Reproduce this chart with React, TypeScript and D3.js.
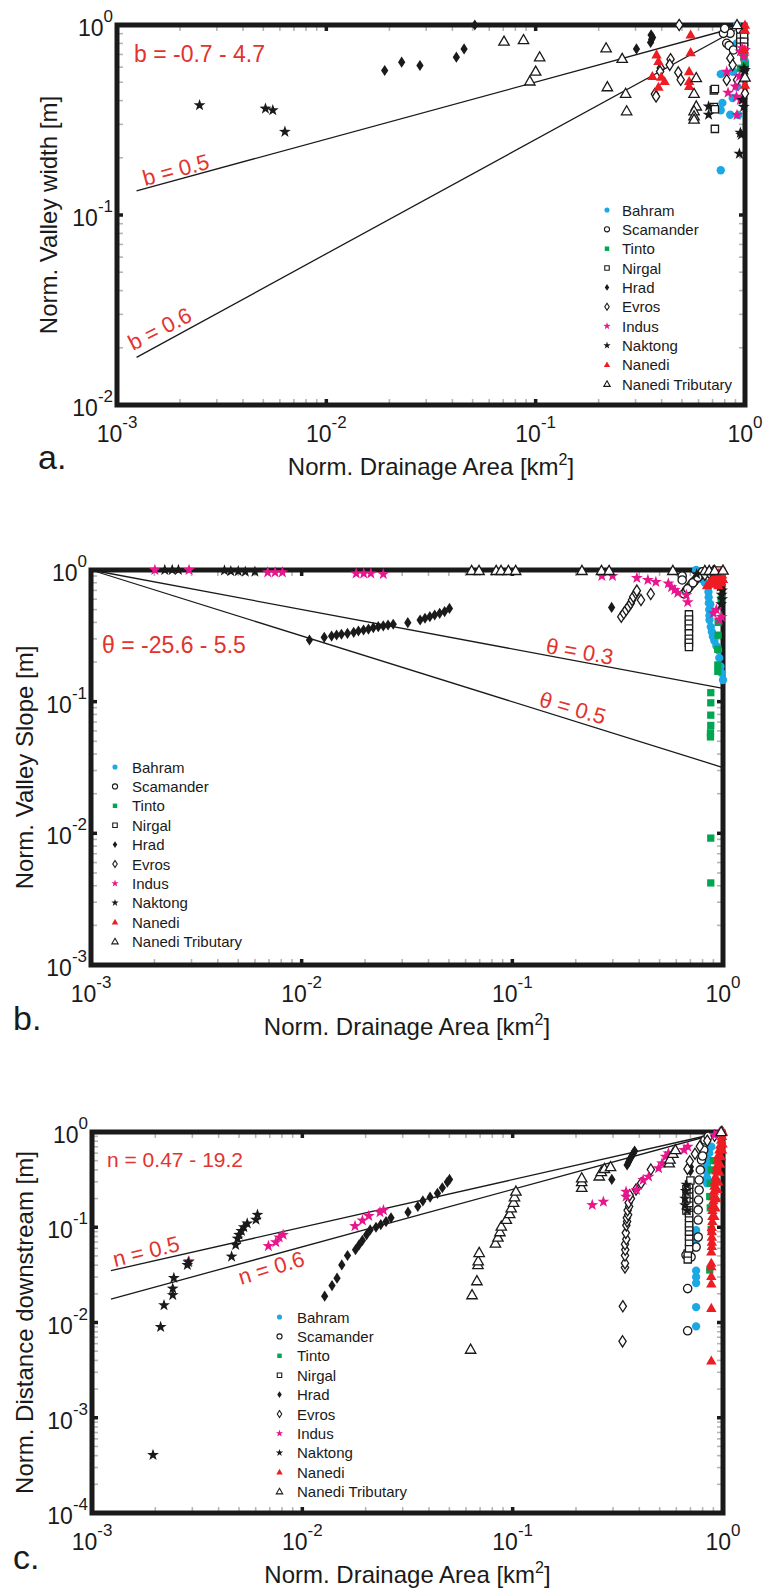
import React from 'react';
import * as d3 from 'd3';

type Pt = [number, number];

// ---------------- Panel a: Norm. Valley width ----------------
const widthBahram: Pt[] = [[0.766,0.551],[0.78,0.389],[0.766,0.356],[0.85,0.337],[0.766,0.172],[0.873,0.413],[0.873,0.569],[1.0,0.643],[0.916,1.0],[0.916,0.801],[0.88,0.568],[0.916,0.473],[1.0,0.616],[0.93,0.336]];
const widthScamander: Pt[] = [[0.818,0.94],[0.849,0.904],[0.789,0.904],[0.818,0.801],[0.84,0.78],[0.881,0.739],[0.95,0.94],[0.986,0.904],[0.80,0.96]];
const widthTinto: Pt[] = [[0.986,0.681],[1.0,0.616],[1.0,0.592],[0.95,0.592]];
const widthNirgal: Pt[] = [[0.718,0.284],[0.71,0.453],[0.718,0.46],[0.71,0.37],[0.718,0.36],[0.95,0.868],[0.99,0.868],[0.95,0.817],[0.99,0.817],[0.95,0.769],[0.99,0.769]];
const widthHrad: Pt[] = [[0.019,0.576],[0.0229,0.637],[0.028,0.612],[0.0418,0.677],[0.0455,0.748],[0.0512,1.0],[0.303,0.748],[0.356,0.887],[0.358,0.841],[0.354,0.81],[0.362,0.86]];
const widthEvros: Pt[] = [[0.485,1.0],[0.441,0.661],[0.437,0.617],[0.396,0.593],[0.393,0.569],[0.48,0.563],[0.493,0.515],[0.371,0.433],[0.376,0.421],[0.851,0.669],[0.873,0.616],[0.818,0.514],[0.916,0.514],[1.0,0.436]];
const widthIndus: Pt[] = [[0.818,0.568],[0.83,0.44],[0.9,0.475],[0.916,0.336],[0.95,0.725],[0.97,0.755],[0.91,0.42],[0.94,0.536],[0.986,0.681],[0.95,0.403],[1.0,0.739]];
const widthNaktong: Pt[] = [[0.00248,0.378],[0.00512,0.363],[0.00555,0.356],[0.00634,0.274],[0.67,0.373],[0.67,0.337],[0.95,0.271],[0.96,0.264],[0.94,0.21],[0.986,0.592],[0.99,0.568],[0.97,0.403],[0.986,0.371],[1.0,0.58]];
const widthNanedi: Pt[] = [[0.378,0.697],[0.386,0.643],[0.361,0.536],[0.398,0.532],[0.413,0.505],[0.386,0.471],[0.55,0.887],[0.55,0.716],[0.541,0.569],[0.541,0.505],[0.541,0.475],[1.0,1.0],[1.0,0.94],[0.99,0.739],[1.0,0.483]];
const widthTributary: Pt[] = [[0.0706,0.818],[0.0875,0.834],[0.1045,0.677],[0.1,0.569],[0.0938,0.505],[0.217,0.755],[0.259,0.664],[0.22,0.471],[0.269,0.435],[0.272,0.352],[0.585,0.526],[0.571,0.435],[0.585,0.373],[0.571,0.352],[0.571,0.331],[0.571,0.318],[1.0,0.53],[0.916,1.0]];
const widthLineB05: Pt[] = [[0.00124,0.134],[1,1]];
const widthLineB06: Pt[] = [[0.00124,0.0178],[1,1]];

// ---------------- Panel b: Norm. Valley slope ----------------
const slopeBahram: Pt[] = [[0.745,1.0],[0.76,0.95],[0.78,0.9],[0.80,0.85],[0.82,0.8],[0.851,0.747],[0.853,0.68],[0.855,0.62],[0.857,0.56],[0.86,0.5],[0.862,0.45],[0.863,0.417],[0.875,0.37],[0.885,0.34],[0.895,0.312],[0.91,0.29],[0.93,0.265],[0.948,0.247],[0.96,0.215],[0.973,0.185],[0.985,0.165],[1.0,0.146],[0.87,0.55],[0.87,0.48]];
const slopeScamander: Pt[] = [[0.653,0.66],[0.67,0.70],[0.69,0.74],[0.71,0.78],[0.73,0.82],[0.75,0.86],[0.77,0.9],[0.79,0.94],[0.80,0.97],[0.68,0.72],[0.72,0.8],[0.76,0.88],[0.64,0.9],[0.64,0.84]];
const slopeTinto: Pt[] = [[0.948,0.40],[0.948,0.32],[0.945,0.25],[0.945,0.19],[0.945,0.17],[0.875,0.117],[0.875,0.098],[0.875,0.079],[0.875,0.066],[0.872,0.058],[0.872,0.054],[0.875,0.0092],[0.875,0.0042],[0.98,0.6]];
const slopeNirgal: Pt[] = [[0.689,0.46],[0.689,0.42],[0.689,0.39],[0.689,0.36],[0.689,0.33],[0.689,0.30],[0.689,0.28],[0.689,0.26],[0.85,0.95],[0.9,0.97],[0.95,0.99]];
const slopeHrad: Pt[] = [[0.01089,0.294],[0.0128,0.308],[0.01387,0.315],[0.01465,0.321],[0.01545,0.325],[0.0165,0.33],[0.01766,0.336],[0.0186,0.344],[0.01967,0.35],[0.02075,0.356],[0.02188,0.365],[0.0231,0.371],[0.0244,0.376],[0.0257,0.382],[0.0272,0.387],[0.0319,0.398],[0.0365,0.417],[0.0385,0.43],[0.0406,0.442],[0.0428,0.455],[0.0452,0.469],[0.0477,0.483],[0.0503,0.511],[0.296,0.52]];
const slopeEvros: Pt[] = [[0.329,0.442],[0.338,0.469],[0.347,0.497],[0.356,0.527],[0.365,0.558],[0.37,0.592],[0.375,0.627],[0.386,0.665],[0.39,0.697],[0.408,0.592],[0.454,0.657],[0.82,0.92],[0.86,0.95],[0.9,0.98]];
const slopeIndus: Pt[] = [[0.00201,1.0],[0.00292,1.0],[0.0069,0.96],[0.00748,0.96],[0.0081,0.96],[0.01815,0.94],[0.0197,0.94],[0.0213,0.94],[0.0244,0.93],[0.266,0.90],[0.299,0.90],[0.39,0.87],[0.44,0.84],[0.48,0.81],[0.55,0.79],[0.57,0.74],[0.59,0.705],[0.61,0.67],[0.67,0.645],[0.68,0.57],[0.9,0.47],[0.96,0.42],[0.93,0.5],[0.985,0.44]];
const slopeNaktong: Pt[] = [[0.00224,1.0],[0.00243,1.0],[0.0026,1.0],[0.0043,0.99],[0.00461,0.98],[0.005,0.98],[0.0054,0.97],[0.006,0.97],[0.97,0.9],[0.98,0.8],[0.99,0.7],[0.97,0.75],[0.99,0.6],[0.98,0.55],[0.985,0.65],[0.75,0.93]];
const slopeNanedi: Pt[] = [[0.84,0.76],[0.86,0.8],[0.88,0.83],[0.9,0.86],[0.92,0.9],[0.95,0.94],[0.98,0.98],[1.0,1.0],[0.9,0.78],[0.93,0.82],[0.96,0.86],[0.99,0.92],[0.95,0.76],[0.98,0.8],[1.0,0.85]];
const slopeTributary: Pt[] = [[0.0641,0.985],[0.0695,0.985],[0.0838,0.985],[0.0884,0.985],[0.0958,0.985],[0.1037,0.985],[0.214,0.985],[0.265,0.985],[0.288,0.985],[0.578,0.985],[0.82,0.985],[0.86,0.985],[0.913,0.985],[1.0,0.99]];
const slopeLineT03: Pt[] = [[0.001,1],[1,0.126]];
const slopeLineT05: Pt[] = [[0.001,1],[1,0.0316]];

// ---------------- Panel c: Norm. Distance downstream ----------------
const distBahram: Pt[] = [[0.745,0.0091],[0.745,0.0145],[0.745,0.026],[0.745,0.030],[0.745,0.035],[0.745,0.061],[0.745,0.073],[0.745,0.085],[0.745,0.093],[0.84,0.29],[0.84,0.33],[0.84,0.38],[0.84,0.44],[0.85,0.5],[0.86,0.6],[0.88,0.7]];
const distScamander: Pt[] = [[0.679,0.00818],[0.679,0.0227],[0.667,0.051],[0.705,0.0487],[0.745,0.062],[0.762,0.079],[0.762,0.119],[0.762,0.152],[0.765,0.193],[0.77,0.246],[0.77,0.313],[0.78,0.4],[0.79,0.508],[0.81,0.647],[0.82,0.824],[0.85,0.9],[0.8,0.56]];
const distTinto: Pt[] = [[0.865,0.21],[0.87,0.29],[0.865,0.0356],[0.879,0.095],[0.88,0.4],[0.9,0.5],[0.87,0.16]];
const distNirgal: Pt[] = [[0.68,0.046],[0.68,0.053],[0.69,0.06],[0.69,0.07],[0.69,0.08],[0.69,0.09],[0.69,0.1],[0.69,0.11],[0.69,0.125],[0.69,0.14],[0.69,0.16],[0.69,0.18],[0.69,0.2],[0.69,0.22],[0.69,0.25],[0.69,0.28],[0.70,0.31],[0.67,0.15],[0.67,0.2],[0.67,0.25]];
const distHrad: Pt[] = [[0.01277,0.0189],[0.01384,0.0244],[0.01462,0.0292],[0.0154,0.0402],[0.0164,0.0505],[0.0179,0.058],[0.0186,0.0652],[0.0193,0.0728],[0.0202,0.0833],[0.021,0.0938],[0.0224,0.1],[0.0236,0.1066],[0.025,0.1146],[0.0264,0.1256],[0.0318,0.144],[0.0354,0.165],[0.0374,0.189],[0.0405,0.207],[0.0439,0.227],[0.0463,0.26],[0.0489,0.298],[0.0501,0.318],[0.296,0.318],[0.35,0.45],[0.355,0.48],[0.36,0.51],[0.365,0.54],[0.37,0.57],[0.375,0.6],[0.38,0.63],[0.70,0.43],[0.70,0.39]];
const distEvros: Pt[] = [[0.333,0.00634],[0.334,0.0148],[0.342,0.0378],[0.342,0.042],[0.342,0.0505],[0.343,0.058],[0.342,0.0664],[0.347,0.075],[0.345,0.0873],[0.347,0.1047],[0.35,0.115],[0.349,0.1256],[0.354,0.135],[0.352,0.1507],[0.358,0.165],[0.356,0.181],[0.365,0.2],[0.36,0.217],[0.386,0.249],[0.408,0.29],[0.454,0.403],[0.678,0.41],[0.695,0.492],[0.736,0.59],[0.776,0.708],[0.842,0.811],[0.912,0.912],[0.989,1.0]];
const distIndus: Pt[] = [[0.00289,0.044],[0.0069,0.0634],[0.00748,0.0695],[0.00777,0.0782],[0.0081,0.0833],[0.0178,0.1028],[0.0193,0.1178],[0.0207,0.1315],[0.0234,0.144],[0.0243,0.1507],[0.239,0.171],[0.27,0.185],[0.346,0.236],[0.346,0.209],[0.388,0.246],[0.417,0.313],[0.443,0.34],[0.494,0.416],[0.513,0.469],[0.533,0.551],[0.55,0.597],[0.653,0.647],[0.68,0.701],[0.91,0.93],[0.96,0.98]];
const distNaktong: Pt[] = [[0.00195,0.000406],[0.00212,0.00897],[0.0022,0.0152],[0.00242,0.0194],[0.00242,0.0227],[0.00245,0.0293],[0.00284,0.0402],[0.00287,0.0429],[0.00461,0.0492],[0.00482,0.0652],[0.00492,0.076],[0.005,0.0833],[0.00513,0.0913],[0.00527,0.1],[0.00547,0.1096],[0.00602,0.12],[0.00612,0.135],[0.66,0.17],[0.66,0.2],[0.665,0.24],[0.67,0.28],[0.675,0.15]];
const distNanedi: Pt[] = [[0.88,0.00395],[0.88,0.0141],[0.88,0.0255],[0.88,0.0306],[0.88,0.0385],[0.88,0.042],[0.88,0.055],[0.885,0.063],[0.885,0.07],[0.885,0.079],[0.885,0.09],[0.885,0.1],[0.89,0.115],[0.89,0.13],[0.89,0.15],[0.895,0.17],[0.9,0.19],[0.9,0.21],[0.905,0.24],[0.91,0.27],[0.915,0.3],[0.92,0.34],[0.93,0.39],[0.935,0.44],[0.94,0.5],[0.95,0.57],[0.96,0.65],[0.97,0.73],[0.98,0.82],[0.99,0.9],[1.0,1.0],[0.93,0.2],[0.94,0.25],[0.95,0.3],[0.96,0.38],[0.97,0.46],[0.98,0.55],[0.99,0.65],[0.995,0.75],[0.92,0.16],[0.91,0.13]];
const distTributary: Pt[] = [[0.0631,0.00519],[0.0641,0.0194],[0.0676,0.0272],[0.0684,0.0402],[0.0686,0.044],[0.0693,0.0538],[0.0828,0.0676],[0.0851,0.078],[0.087,0.0889],[0.0883,0.1018],[0.0933,0.12],[0.0968,0.1375],[0.0984,0.158],[0.101,0.181],[0.102,0.207],[0.1036,0.237],[0.213,0.26],[0.213,0.298],[0.213,0.327],[0.258,0.342],[0.264,0.381],[0.273,0.41],[0.292,0.429],[0.555,0.47],[0.56,0.515],[0.578,0.59],[0.594,0.646],[0.98,1.0]];
const distLineN05: Pt[] = [[0.00123,0.0351],[1,1]];
const distLineN06: Pt[] = [[0.00123,0.0176],[1,1]];

const seriesNames = ['Bahram','Scamander','Tinto','Nirgal','Hrad','Evros','Indus','Naktong','Nanedi','Nanedi Tributary'];
const xDecades = [-3, -2, -1, 0];

const BLUE = '#1ba9e6', GREEN = '#00a651', MAGENTA = '#e8168c', RED = '#ee1d23', BLACK = '#1a1a1a', ANNOT = '#e2332e';

const STYLE: Record<string, { shape: string; fill: string; stroke: string }> = {
  'Bahram': { shape: 'circle', fill: BLUE, stroke: 'none' },
  'Scamander': { shape: 'circle', fill: '#fff', stroke: BLACK },
  'Tinto': { shape: 'square', fill: GREEN, stroke: 'none' },
  'Nirgal': { shape: 'square', fill: '#fff', stroke: BLACK },
  'Hrad': { shape: 'diamond', fill: BLACK, stroke: 'none' },
  'Evros': { shape: 'diamond', fill: '#fff', stroke: BLACK },
  'Indus': { shape: 'star', fill: MAGENTA, stroke: 'none' },
  'Naktong': { shape: 'star', fill: BLACK, stroke: 'none' },
  'Nanedi': { shape: 'triangle', fill: RED, stroke: 'none' },
  'Nanedi Tributary': { shape: 'triangle', fill: '#fff', stroke: BLACK },
};

function markerPath(shape: string, k: number): string {
  if (shape === 'circle') { const r = 3.2 * k; return `M${r},0A${r},${r} 0 1 1 ${-r},0A${r},${r} 0 1 1 ${r},0Z`; }
  if (shape === 'square') { const s = 2.8 * k; return `M${-s},${-s}H${s}V${s}H${-s}Z`; }
  if (shape === 'diamond') { const w = 2.8 * k, h = 4.3 * k; return `M0,${-h}L${w},0L0,${h}L${-w},0Z`; }
  if (shape === 'triangle') { const w = 4 * k, h = 7 * k; return `M0,${-h * 0.6}L${w},${h * 0.4}L${-w},${h * 0.4}Z`; }
  const R = 4.8 * k, r = 1.9 * k;
  const pts: string[] = [];
  for (let i = 0; i < 10; i++) {
    const a = -Math.PI / 2 + (i * Math.PI) / 5;
    const rad = i % 2 === 0 ? R : r;
    pts.push(`${(rad * Math.cos(a)).toFixed(2)},${(rad * Math.sin(a)).toFixed(2)}`);
  }
  return 'M' + pts.join('L') + 'Z';
}

const FONT = "'Liberation Sans', Arial, Helvetica, sans-serif";
const MARK_K = 1.3;
const LEGEND_K = 0.8;

type Annot = { text: string; x: number; y: number; angle: number; size: number };
type PanelCfg = {
  left: number; right: number; top: number; bottom: number; yMinExp: number;
  series: Pt[][]; lines: Pt[][]; annots: Annot[];
  legendX: number; legendTextX: number; legendY: number; legendStep: number;
  yLabel: string; yLabelX: number; letter: string; letterX: number; letterY: number;
};

const panels: PanelCfg[] = [
  {
    left: 117, right: 745, top: 25, bottom: 405, yMinExp: -2,
    series: [widthBahram, widthScamander, widthTinto, widthNirgal, widthHrad, widthEvros, widthIndus, widthNaktong, widthNanedi, widthTributary],
    lines: [widthLineB05, widthLineB06],
    annots: [
      { text: 'b = -0.7 - 4.7', x: 134, y: 62, angle: 0, size: 23 },
      { text: 'b = 0.5', x: 145, y: 186, angle: -15, size: 22 },
      { text: 'b = 0.6', x: 133, y: 351, angle: -27, size: 22 },
    ],
    legendX: 607, legendTextX: 622, legendY: 210, legendStep: 19.35,
    yLabel: 'Norm. Valley width [m]', yLabelX: 57, letter: 'a.', letterX: 38, letterY: 469,
  },
  {
    left: 91, right: 723, top: 570, bottom: 965, yMinExp: -3,
    series: [slopeBahram, slopeScamander, slopeTinto, slopeNirgal, slopeHrad, slopeEvros, slopeIndus, slopeNaktong, slopeNanedi, slopeTributary],
    lines: [slopeLineT03, slopeLineT05],
    annots: [
      { text: 'θ = -25.6 - 5.5', x: 102, y: 653, angle: 0, size: 23 },
      { text: 'θ = 0.3', x: 545, y: 653, angle: 10, size: 22 },
      { text: 'θ = 0.5', x: 538, y: 706, angle: 16, size: 22 },
    ],
    legendX: 115, legendTextX: 132, legendY: 767, legendStep: 19.4,
    yLabel: 'Norm. Valley Slope [m]', yLabelX: 33, letter: 'b.', letterX: 13, letterY: 1030,
  },
  {
    left: 92, right: 723, top: 1132, bottom: 1513, yMinExp: -4,
    series: [distBahram, distScamander, distTinto, distNirgal, distHrad, distEvros, distIndus, distNaktong, distNanedi, distTributary],
    lines: [distLineN05, distLineN06],
    annots: [
      { text: 'n = 0.47 - 19.2', x: 107, y: 1167, angle: 0, size: 21 },
      { text: 'n = 0.5', x: 115, y: 1267, angle: -14, size: 22 },
      { text: 'n = 0.6', x: 241, y: 1285, angle: -17, size: 22 },
    ],
    legendX: 279.5, legendTextX: 297, legendY: 1317, legendStep: 19.4,
    yLabel: 'Norm. Distance downstream [m]', yLabelX: 33, letter: 'c.', letterX: 13, letterY: 1569,
  },
];

function Panel({ p }: { p: PanelCfg }) {
  const x = d3.scaleLog().domain([1e-3, 1]).range([p.left, p.right]);
  const y = d3.scaleLog().domain([Math.pow(10, p.yMinExp), 1]).range([p.bottom, p.top]);
  const line = d3.line<Pt>().x(d => x(d[0])).y(d => y(d[1]));
  const yDecades = d3.range(p.yMinExp, 1);
  const minorX: number[] = [];
  xDecades.slice(0, -1).forEach(e => { for (let k = 2; k < 10; k++) minorX.push(k * Math.pow(10, e)); });
  const minorY: number[] = [];
  yDecades.slice(0, -1).forEach(e => { for (let k = 2; k < 10; k++) minorY.push(k * Math.pow(10, e)); });
  const cx = (p.left + p.right) / 2, cy = (p.top + p.bottom) / 2;
  const tickLen = 6, minorLen = 4;

  return (
    <g>
      {p.lines.map((l, i) => <path key={'l' + i} d={line(l) || ''} fill="none" stroke={BLACK} strokeWidth={1.3} />)}
      {minorX.map((v, i) => (
        <g key={'mx' + i} stroke="#b5b5b5" strokeWidth={1.6}>
          <line x1={x(v)} x2={x(v)} y1={p.top + 2} y2={p.top + 2 + minorLen} />
          <line x1={x(v)} x2={x(v)} y1={p.bottom - 2} y2={p.bottom - 2 - minorLen} />
        </g>
      ))}
      {minorY.map((v, i) => (
        <g key={'my' + i} stroke="#b5b5b5" strokeWidth={1.6}>
          <line y1={y(v)} y2={y(v)} x1={p.left + 2} x2={p.left + 2 + minorLen} />
          <line y1={y(v)} y2={y(v)} x1={p.right - 2} x2={p.right - 2 - minorLen} />
        </g>
      ))}
      {xDecades.slice(1, -1).map(e => (
        <g key={'tx' + e} stroke={BLACK} strokeWidth={3.5}>
          <line x1={x(Math.pow(10, e))} x2={x(Math.pow(10, e))} y1={p.top} y2={p.top + tickLen} />
          <line x1={x(Math.pow(10, e))} x2={x(Math.pow(10, e))} y1={p.bottom} y2={p.bottom - tickLen} />
        </g>
      ))}
      {yDecades.slice(1).filter(e => e !== 0).map(e => (
        <g key={'ty' + e} stroke={BLACK} strokeWidth={3.5}>
          <line y1={y(Math.pow(10, e))} y2={y(Math.pow(10, e))} x1={p.left} x2={p.left + tickLen} />
          <line y1={y(Math.pow(10, e))} y2={y(Math.pow(10, e))} x1={p.right} x2={p.right - tickLen} />
        </g>
      ))}
      <rect x={p.left} y={p.top} width={p.right - p.left} height={p.bottom - p.top} fill="none" stroke={BLACK} strokeWidth={5} />
      {p.series.map((s, si) => {
        const st = STYLE[seriesNames[si]];
        const d = markerPath(st.shape, MARK_K);
        return (
          <g key={'s' + si}>
            {s.map((pt, j) => (
              <path key={j} d={d} transform={`translate(${x(pt[0]).toFixed(2)},${y(pt[1]).toFixed(2)})`}
                fill={st.fill} stroke={st.stroke} strokeWidth={st.stroke === 'none' ? 0 : 1.3} />
            ))}
          </g>
        );
      })}
      {p.annots.map((a, i) => (
        <text key={'a' + i} x={a.x} y={a.y} fontSize={a.size} fill={ANNOT} fontFamily={FONT}
          transform={a.angle ? `rotate(${a.angle},${a.x},${a.y})` : undefined}>{a.text}</text>
      ))}
      {seriesNames.map((n, i) => {
        const st = STYLE[n];
        const ly = p.legendY + i * p.legendStep;
        return (
          <g key={'lg' + i}>
            <path d={markerPath(st.shape, LEGEND_K)} transform={`translate(${p.legendX},${ly})`} fill={st.fill}
              stroke={st.stroke} strokeWidth={st.stroke === 'none' ? 0 : 1.1} />
            <text x={p.legendTextX} y={ly + 5.5} fontSize={15} fontFamily={FONT} fill={BLACK}>{n}</text>
          </g>
        );
      })}
      {xDecades.map(e => (
        <text key={'xl' + e} x={x(Math.pow(10, e))} y={p.bottom + 37} textAnchor="middle" fontSize={23} fontFamily={FONT} fill={BLACK}>
          10<tspan fontSize={17} dy={-14}>{String(e)}</tspan>
        </text>
      ))}
      {yDecades.map(e => (
        <text key={'yl' + e} x={p.left - 4} y={y(Math.pow(10, e)) + 11} textAnchor="end" fontSize={23} fontFamily={FONT} fill={BLACK}>
          10<tspan fontSize={17} dy={-14}>{String(e)}</tspan>
        </text>
      ))}
      <text x={cx} y={p.bottom + 70} textAnchor="middle" fontSize={24} fontFamily={FONT} fill={BLACK}>
        Norm. Drainage Area [km<tspan fontSize={16} dy={-10}>2</tspan><tspan dy={10}>]</tspan>
      </text>
      <text transform={`translate(${p.yLabelX},${cy}) rotate(-90)`} textAnchor="middle" fontSize={24} fontFamily={FONT} fill={BLACK}>
        {p.yLabel}
      </text>
      <text x={p.letterX} y={p.letterY} fontSize={34} fontFamily={FONT} fill={BLACK}>{p.letter}</text>
    </g>
  );
}

export default function App() {
  return (
    <svg width={764} height={1589} style={{ position: 'absolute', left: 0, top: 0, background: '#fff' }}>
      <rect x={0} y={0} width={764} height={1589} fill="#fff" />
      {panels.map((p, i) => <Panel key={i} p={p} />)}
    </svg>
  );
}
